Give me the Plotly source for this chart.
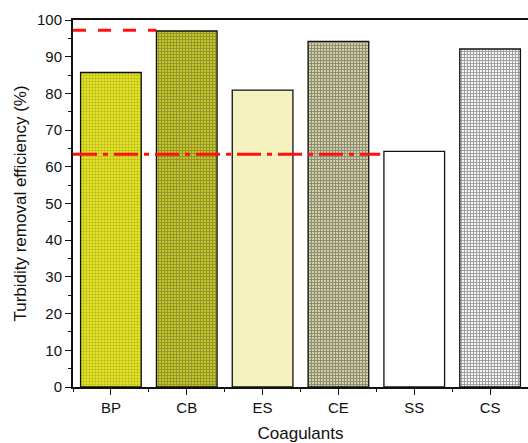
import plotly.graph_objects as go

categories = ["BP", "CB", "ES", "CE", "SS", "CS"]
efficiency = [85.7, 97.0, 80.9, 94.2, 64.2, 92.1]
bg_colors = ["#e2e21e", "#e6e61c", "#f6f2c0", "#d6d4a6", "#ffffff", "#ffffff"]
fg_colors = ["#cccc12", "#000000", "#f6f2c0", "#262618", "#ffffff", "#1a1a1a"]
shapes_pat = ["+", "+", "", "+", "", "+"]
solidity = [0.2, 0.7, 0.3, 0.6, 0.3, 0.65]

ref_high = 97.2
ref_high_span = [-0.5, 0.6]
ref_low = 63.4
ref_low_span = [-0.5, 3.55]

x_pos = list(range(len(categories)))

fig = go.Figure()
fig.add_trace(go.Bar(
    x=x_pos, y=efficiency, width=0.8,
    marker=dict(
        color=bg_colors,
        line=dict(color="#111111", width=1.3),
        pattern=dict(shape=shapes_pat, fgcolor=fg_colors, bgcolor=bg_colors,
                     size=3, solidity=solidity, fillmode="overlay"),
    ),
    showlegend=False, hoverinfo="skip",
))
fig.add_trace(go.Scatter(
    x=ref_high_span, y=[ref_high, ref_high], mode="lines",
    line=dict(color="#ff1010", width=3, dash="13px,12px"),
    showlegend=False, hoverinfo="skip",
))
fig.add_trace(go.Scatter(
    x=ref_low_span, y=[ref_low, ref_low], mode="lines",
    line=dict(color="#ff1010", width=3, dash="24px,6px,5px,6px"),
    showlegend=False, hoverinfo="skip",
))

font = dict(family="Liberation Sans, Arial, sans-serif", color="#111111")
fig.update_layout(
    width=528, height=443,
    margin=dict(l=73, r=0, t=20, b=56),
    paper_bgcolor="white", plot_bgcolor="white",
    font=dict(size=15, **font),
    xaxis=dict(
        range=[-0.5, 5.5], tickvals=x_pos, ticktext=categories,
        showgrid=False, zeroline=False, automargin=False,
        showline=True, linecolor="#111111", linewidth=2, mirror=True,
        ticks="outside", ticklen=6, tickwidth=1.3, tickcolor="#111111",
        minor=dict(ticks="outside", ticklen=3, tick0=0.5, dtick=1, tickcolor="#111111", tickwidth=1.2, showgrid=False),
        tickfont=dict(size=15),
        title=dict(text="Coagulants", font=dict(size=17), standoff=17),
    ),
    yaxis=dict(
        range=[0, 100], tickvals=list(range(0, 101, 10)),
        showgrid=False, zeroline=False, automargin=False,
        showline=True, linecolor="#111111", linewidth=2, mirror=False,
        ticks="outside", ticklen=6, tickwidth=1.3, tickcolor="#111111",
        minor=dict(ticks="outside", ticklen=3, dtick=5, tick0=0, tickcolor="#111111", tickwidth=1.2, showgrid=False),
        tickfont=dict(size=15),
        title=dict(text="Turbidity removal efficiency (%)", font=dict(size=17), standoff=6),
    ),
)
fig.write_html("out.html", config={"displayModeBar": False},
               post_script="document.body.style.margin='0';")
